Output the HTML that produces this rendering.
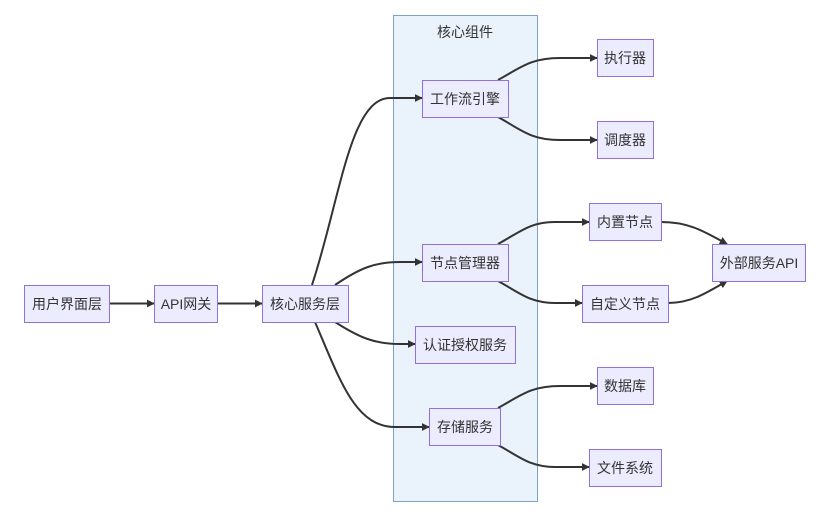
<!DOCTYPE html>
<html><head><meta charset="utf-8"><style>
html,body{margin:0;padding:0;background:#fff;width:822px;height:520px;overflow:hidden}
text{font-family:"Liberation Sans","Noto Sans CJK SC",sans-serif;font-size:14px;fill:#333}
</style></head><body>
<svg width="822" height="520" viewBox="0 0 822 520" xmlns="http://www.w3.org/2000/svg">
<defs><marker id="a" viewBox="0 0 10 10" refX="9" refY="5" markerWidth="8" markerHeight="8" orient="auto" markerUnits="userSpaceOnUse"><path d="M0,0L10,5L0,10z" fill="#333"/></marker></defs>
<rect x="393.5" y="15.5" width="144" height="486" fill="#eaf2fc" stroke="#7ba1cc"/>
<text x="465" y="37" text-anchor="middle">核心组件</text>
<g fill="none" stroke="#333" stroke-width="2" marker-end="url(#a)">
<path d="M109,303.5H154"/>
<path d="M217,303.5H262"/>
<path d="M312,285C340,200 350,98 390,98H422"/>
<path d="M335,285C360,268 375,262 400,262H422"/>
<path d="M335,322C360,338 375,344 400,344H415"/>
<path d="M315,322C340,380 355,427 395,427H429"/>
<path d="M498,80C520,68 530,58 560,58H597"/>
<path d="M498,117C520,129 530,140 560,140H597"/>
<path d="M498,244C520,232 530,222 555,222H589"/>
<path d="M498,281C520,293 530,303 555,303H582"/>
<path d="M498,408C520,396 530,386 560,386H597"/>
<path d="M498,445C520,457 530,467 555,467H589"/>
<path d="M661,222C690,222 705,232 727,244"/>
<path d="M668,303C690,303 705,294 727,281"/>
</g>
<g fill="#ececff" stroke="#9370db">
<rect x="24.5" y="285.5" width="85" height="37"/>
<rect x="154.5" y="285.5" width="63" height="37"/>
<rect x="262.5" y="285.5" width="86" height="37"/>
<rect x="422.5" y="80.5" width="86" height="37"/>
<rect x="597.5" y="39.5" width="56" height="37"/>
<rect x="597.5" y="121.5" width="56" height="37"/>
<rect x="422.5" y="244.5" width="86" height="37"/>
<rect x="415.5" y="326.5" width="100" height="37"/>
<rect x="429.5" y="408.5" width="71" height="37"/>
<rect x="589.5" y="203.5" width="72" height="37"/>
<rect x="582.5" y="285.5" width="86" height="37"/>
<rect x="712.5" y="244.5" width="93" height="37"/>
<rect x="597.5" y="367.5" width="56" height="37"/>
<rect x="589.5" y="449.5" width="72" height="37"/>
</g>
<g text-anchor="middle">
<text x="67" y="309">用户界面层</text>
<text x="186" y="309">API网关</text>
<text x="305" y="309">核心服务层</text>
<text x="465" y="104">工作流引擎</text>
<text x="625" y="63">执行器</text>
<text x="625" y="145">调度器</text>
<text x="465" y="268">节点管理器</text>
<text x="465" y="350">认证授权服务</text>
<text x="465" y="432">存储服务</text>
<text x="625" y="227">内置节点</text>
<text x="625" y="309">自定义节点</text>
<text x="759" y="268">外部服务API</text>
<text x="625" y="391">数据库</text>
<text x="625" y="473">文件系统</text>
</g>
</svg>
</body></html>
